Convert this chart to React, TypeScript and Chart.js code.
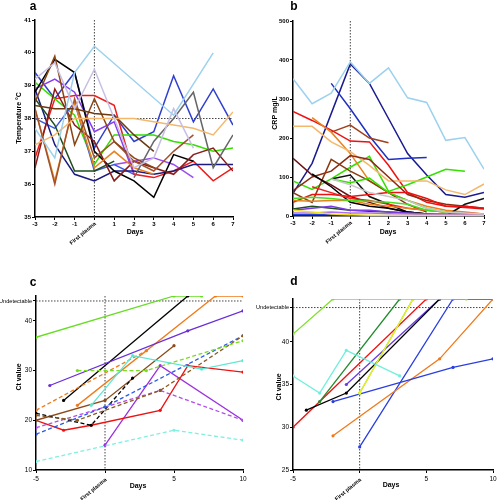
import React, { useEffect, useRef } from "react";
import { Chart, registerables } from "chart.js";

Chart.register(...registerables);

const _ = null;

// ---------- Panel a: temperature (°C) ----------
const daysAB = [-3, -2, -1, 0, 1, 2, 3, 4, 5, 6, 7];
const tempLightBlue = [37.7, 36.8, 39.4, 40.2, _, _, _, 38.1, _, 40.0, _];
const tempLavender = [39.2, 39.7, 38.3, 39.5, 38.0, 36.5, 36.8, 38.3, 37.1, _, _];
const tempBlack = [38.8, 39.8, 39.4, 37.0, 36.4, 36.1, 35.6, 36.9, 36.7, _, _];
const tempNavy = [38.9, 37.2, 36.3, 36.1, 36.4, 36.4, 36.3, 36.4, 36.6, 36.6, 36.6];
const tempRoyalBlue = [39.4, 38.6, 39.4, 37.1, 38.1, 37.3, 37.6, 39.3, 37.9, 38.9, 37.8];
const tempBlue = [38.0, 37.7, 38.5, 36.4, 36.6, 36.3, _, _, _, _, _];
const tempPurple = [38.9, 39.2, 38.8, 37.6, 37.9, 36.3, _, _, _, _, _];
const tempViolet = [_, _, _, _, 36.6, 36.7, 36.8, 36.6, 36.2, _, _];
const tempRed = [36.8, 38.6, 38.7, 38.7, 38.4, 36.3, 36.2, 36.4, 36.7, 36.1, 36.5];
const tempMaroon = [36.5, 38.9, 37.8, 37.3, 36.1, 36.7, 36.5, 36.3, 36.9, 37.1, 36.4];
const tempGreen = [39.1, 38.6, 38.1, 36.6, 37.5, 37.5, 37.5, 37.3, 37.2, 37.0, 37.1];
const tempDarkGreen = [38.6, 37.8, 36.4, 36.4, 36.7, _, _, _, _, _, _];
const tempTan = [37.2, 37.5, 38.0, 38.0, 38.0, 38.0, 37.9, 37.8, 37.7, 37.5, 38.2];
const tempOrange = [38.3, 36.1, 38.5, 36.5, 37.0, 36.5, 36.3, _, _, _, _];
const tempSaddle = [38.5, 39.9, 37.2, 38.6, 37.3, 36.8, 36.5, _, _, _, _];
const tempSienna = [38.3, 36.0, 38.6, 36.8, 37.3, 36.7, 36.4, 37.0, 37.5, _, _];
const tempDarkBrown = [38.4, 38.3, 38.3, 38.15, 38.1, 37.5, 37.0, _, _, _, _];
const tempGray = [_, _, _, _, _, 36.2, 37.3, 38.0, 38.8, 36.5, 37.5];

// ---------- Panel b: CRP (mg/L) ----------
const crpLightBlue = [352, 288, 315, 395, 340, 380, 303, 291, 194, 201, 120];
const crpNavy = [58, 135, _, 390, 340, 250, 160, 105, 55, 48, 60];
const crpBlue = [_, _, 340, 275, 205, 145, 148, 150, _, _, _];
const crpRed = [268, 245, 220, 192, 190, 130, 60, 35, 25, 22, 18];
const crpRed2 = [35, 55, 55, 50, 55, 60, 60, 45, 25, 25, 20];
const crpRed3 = [_, 75, 60, 45, 40, 30, 20, 15, 10, 8, 5];
const crpSienna = [_, _, 215, 233, 200, 188, _, _, _, _, _];
const crpTan = [230, 230, 190, 165, 130, 90, 90, 90, 67, 55, 82];
const crpOrange = [_, 252, 215, 160, 90, 60, 40, 25, 15, 10, 5];
const crpOrangeLow = [40, 38, 40, 40, 30, 25, 20, 15, 10, 8, _];
const crpSaddle = [65, 100, 115, 155, 145, 100, 55, 40, 30, 25, 20];
const crpMaroon = [148, 105, 80, 50, 35, 20, 10, 5, _, _, _];
const crpBrown = [60, 35, 145, 115, 90, 60, 30, 10, _, _, _];
const crpGreen = [90, 68, 95, 125, 153, 63, 80, 100, 120, 115, _];
const crpGreen2 = [_, _, 95, 85, 97, 60, 40, 20, 10, 5, 2];
const crpGreen3 = [45, 48, 45, 40, 38, 35, 30, 15, 10, 5, 2];
const crpBlack = [_, 108, 75, 35, 25, 20, 10, 5, _, _, _];
const crpBlack2 = [_, _, 95, 105, 50, 30, 10, 5, 0, 30, 45];
const crpDarkGreen = [18, 25, 20, 15, 12, 10, 8, 5, 3, 2, 2];
const crpGray = [_, _, 95, 80, 60, 50, 40, 20, 10, 8, 5];
const crpYellow = [15, 10, 5, 3, 2, 1, 1, 1, 1, 1, 1];
const crpPurple = [15, 20, 25, 15, 15, 10, 8, 5, 5, 5, 5];
const crpViolet = [8, 8, 10, 8, 8, 6, 5, 4, 4, 4, 4];
const crpBlueLow = [3, 3, 3, 2, _, _, _, _, _, _, _];

// ---------- Panel c: Ct value ----------
const daysCD = [-5, -4, -3, -2, -1, 0, 1, 2, 3, 4, 5, 6, 7, 8, 9, 10];
const ctLime = [36.7, _, _, _, _, _, _, _, _, _, 45, _, 45, _, _, _];
const ctBlack = [_, _, 24, _, _, _, _, _, _, _, _, 45, _, _, _, _];
const ctOrange = [_, _, _, 23, _, _, _, _, _, _, _, _, _, 45, _, 45];
const ctPurple = [_, 27, _, _, _, _, _, _, _, _, _, 38, _, _, _, 42];
const ctOrangeDash = [22, _, _, _, _, _, _, _, 34, _, _, _, _, _, _, _];
const ctGreenDash = [_, _, _, 30, _, _, _, _, 30, _, _, _, _, _, _, 36];
const ctCyan = [_, _, _, _, 23, _, _, 33, _, _, _, _, 30.3, _, _, 32];
const ctAquaDash = [11.7, _, _, _, _, _, _, _, _, _, 18, _, _, _, _, 16];
const ctRed = [20, _, 18, _, 19, _, _, _, _, 22, _, 31, _, _, _, 29.7];
const ctBrown = [20, _, _, _, _, 24, _, _, _, _, 35, _, _, _, _, _];
const ctBlackDash = [21.4, _, _, _, 19, _, _, 28.5, _, _, _, _, _, _, _, _];
const ctBlueDash = [17.2, _, _, _, _, 22.7, _, _, _, _, _, _, _, _, _, 37];
const ctBrownDash = [21, _, _, 20, _, _, _, _, _, 26, _, _, _, _, _, 37];
const ctVioletDash = [18.5, _, _, _, _, _, _, _, _, 26, _, _, _, _, _, 20];
const ctViolet = [_, _, _, _, _, 15, _, _, _, 31, _, _, _, _, _, 20];

// ---------- Panel d: Ct value ----------
const dLightGreen = [40.9, _, _, 45, _, _, _, _, _, _, _, _, _, 45, _, _];
const dCyan = [36, _, 34, _, 39, _, _, _, 36, _, _, _, _, _, _, _];
const dDarkGreen = [_, _, 33, _, _, _, _, _, 45, _, _, _, _, _, _, _];
const dGreen = [_, _, _, _, _, 34, _, _, _, 45, _, _, _, _, _, _];
const dYellow = [_, _, _, _, _, 34, _, _, _, 45, _, _, _, _, _, _];
const dRed = [30, _, _, _, _, _, _, _, _, _, 45, _, _, _, _, _];
const dBlack = [_, 32, _, _, 34, _, _, _, _, _, _, 45, _, _, _, _];
const dPurple = [_, _, _, _, 35, _, _, _, _, _, _, 45, _, _, _, _];
const dBlue = [_, _, _, _, _, 27.7, _, _, _, _, _, _, 45, _, _, 45];
const dBlue2 = [_, _, _, 33, _, _, _, _, _, _, _, _, 37, _, _, 38];
const dOrange = [_, _, _, 29, _, _, _, _, _, _, _, 38, _, _, _, 45];

// tick / label texts
const ticksC = [10, 20, 30, 40, 44];
const ticksD = [25, 30, 35, 40, 44];
const UNDETECTABLE = 44;

type Series = { vals: (number | null)[]; color: string; dash?: boolean };

const seriesA: Series[] = [
  { vals: tempLightBlue, color: "#9dd1ee" },
  { vals: tempLavender, color: "#c8bfe4" },
  { vals: tempTan, color: "#f4b86a" },
  { vals: tempGray, color: "#666666" },
  { vals: tempDarkBrown, color: "#6b3a10" },
  { vals: tempSaddle, color: "#8b4513" },
  { vals: tempSienna, color: "#a0522d" },
  { vals: tempOrange, color: "#e8821e" },
  { vals: tempMaroon, color: "#8b1a1a" },
  { vals: tempDarkGreen, color: "#1e4d1e" },
  { vals: tempBlack, color: "#000000" },
  { vals: tempNavy, color: "#1a1a80" },
  { vals: tempBlue, color: "#3a5ce0" },
  { vals: tempPurple, color: "#8a3cf0" },
  { vals: tempViolet, color: "#9b4cf0" },
  { vals: tempGreen, color: "#33e000" },
  { vals: tempRed, color: "#ee1c1c" },
  { vals: tempRoyalBlue, color: "#2f3fd0" },
];

const seriesB: Series[] = [
  { vals: crpLightBlue, color: "#9dd1ee" },
  { vals: crpGray, color: "#c8c8c8" },
  { vals: crpYellow, color: "#f0e020" },
  { vals: crpViolet, color: "#b070f0" },
  { vals: crpPurple, color: "#7a3ce0" },
  { vals: crpBlueLow, color: "#2040e0" },
  { vals: crpDarkGreen, color: "#1e4d1e" },
  { vals: crpGreen3, color: "#44e020" },
  { vals: crpGreen2, color: "#33e000" },
  { vals: crpOrangeLow, color: "#e8821e" },
  { vals: crpRed3, color: "#ee2222" },
  { vals: crpRed2, color: "#ee1111" },
  { vals: crpBlack, color: "#000000" },
  { vals: crpBlack2, color: "#111111" },
  { vals: crpMaroon, color: "#6b1010" },
  { vals: crpBrown, color: "#8b3a10" },
  { vals: crpSaddle, color: "#8b2a10" },
  { vals: crpTan, color: "#f4b86a" },
  { vals: crpOrange, color: "#e8821e" },
  { vals: crpSienna, color: "#a0401d" },
  { vals: crpGreen, color: "#33e000" },
  { vals: crpRed, color: "#ee1111" },
  { vals: crpBlue, color: "#2030c0" },
  { vals: crpNavy, color: "#1a1a90" },
];

const seriesC: Series[] = [
  { vals: ctAquaDash, color: "#7ff0e0", dash: true },
  { vals: ctCyan, color: "#5fe8d0" },
  { vals: ctGreenDash, color: "#77dd22", dash: true },
  { vals: ctOrangeDash, color: "#f07a1a", dash: true },
  { vals: ctBrownDash, color: "#8b5a20", dash: true },
  { vals: ctBlueDash, color: "#2a5be8", dash: true },
  { vals: ctVioletDash, color: "#b24de8", dash: true },
  { vals: ctBlackDash, color: "#000000", dash: true },
  { vals: ctBrown, color: "#8b4a1a" },
  { vals: ctRed, color: "#ee1111" },
  { vals: ctViolet, color: "#9b30e0" },
  { vals: ctPurple, color: "#6a2ed8" },
  { vals: ctOrange, color: "#f07a1a" },
  { vals: ctBlack, color: "#000000" },
  { vals: ctLime, color: "#66dd22" },
];

const seriesD: Series[] = [
  { vals: dLightGreen, color: "#80e030" },
  { vals: dCyan, color: "#70f0dc" },
  { vals: dYellow, color: "#f0f020" },
  { vals: dGreen, color: "#55d040" },
  { vals: dDarkGreen, color: "#1f8a2a" },
  { vals: dBlue2, color: "#2a3ee0" },
  { vals: dOrange, color: "#f07a1a" },
  { vals: dBlue, color: "#2a3ee0" },
  { vals: dBlack, color: "#000000" },
  { vals: dPurple, color: "#6a3ae0" },
  { vals: dRed, color: "#ee1111" },
];

const FONT = "'Liberation Sans', Arial, Helvetica, sans-serif";
const CW = 497;
const CH = 500;
const XH = 20;

type Panel = {
  letter: string;
  plot: { l: number; t: number; r: number; b: number };
  days: number[];
  series: Series[];
  xMin: number; xMax: number; xStep: number;
  yMin: number; yMax: number; yStep?: number; yTicks?: number[];
  hLine?: number;
  yTitle: string;
  letterPos: [number, number];
  yTitlePos: [number, number];
  daysPos: [number, number];
  markers: boolean;
  boldTicks: boolean;
  tickSize: number;
  lineWidth: number;
  xLabelPad: number;
  fpOffset: number;
};

const panels: Panel[] = [
  {
    letter: "a", plot: { l: 35, t: 20, r: 233, b: 217 }, days: daysAB, series: seriesA,
    xMin: -3, xMax: 7, xStep: 1, yMin: 35, yMax: 41, yStep: 1, hLine: 38,
    yTitle: "Temperature °C", letterPos: [33, 7], yTitlePos: [19, 118], daysPos: [135, 232],
    markers: false, boldTicks: true, tickSize: 6, lineWidth: 1.5, xLabelPad: 1, fpOffset: 6,
  },
  {
    letter: "b", plot: { l: 293, t: 21, r: 484, b: 216 }, days: daysAB, series: seriesB,
    xMin: -3, xMax: 7, xStep: 1, yMin: 0, yMax: 500, yStep: 100,
    yTitle: "CRP mg/L", letterPos: [294, 7], yTitlePos: [275, 113], daysPos: [388, 232],
    markers: false, boldTicks: true, tickSize: 6, lineWidth: 1.5, xLabelPad: 1, fpOffset: 6,
  },
  {
    letter: "c", plot: { l: 36, t: 296, r: 243, b: 470 }, days: daysCD, series: seriesC,
    xMin: -5, xMax: 10, xStep: 5, yMin: 10, yMax: 45, yTicks: ticksC, hLine: UNDETECTABLE,
    yTitle: "Ct value", letterPos: [33, 283], yTitlePos: [19, 377], daysPos: [138, 486],
    markers: true, boldTicks: false, tickSize: 6.5, lineWidth: 1.3, xLabelPad: 2, fpOffset: 9,
  },
  {
    letter: "d", plot: { l: 293, t: 299, r: 493, b: 470 }, days: daysCD, series: seriesD,
    xMin: -5, xMax: 10, xStep: 5, yMin: 25, yMax: 45, yTicks: ticksD, hLine: UNDETECTABLE,
    yTitle: "Ct value", letterPos: [294, 282], yTitlePos: [279, 387], daysPos: [391, 485],
    markers: true, boldTicks: false, tickSize: 6.5, lineWidth: 1.3, xLabelPad: 2, fpOffset: 9,
  },
];

function buildConfig(p: Panel): any {
  const datasets = p.series.map((s) => ({
    data: p.days
      .map((d, i) => (s.vals[i] == null ? null : { x: d, y: s.vals[i] as number }))
      .filter((v) => v != null),
    borderColor: s.color,
    backgroundColor: s.color,
    borderWidth: p.lineWidth,
    borderDash: s.dash ? [4, 2.5] : [],
    pointRadius: p.markers ? 1.6 : 0,
    pointBorderWidth: 0,
    pointBackgroundColor: s.color,
    tension: 0,
    fill: false,
  }));

  const tickFont = { family: FONT, size: p.tickSize, weight: p.boldTicks ? "bold" : "normal" };
  const undetFont = { family: FONT, size: 5.6, weight: "normal" };
  const yAxisWidth = p.plot.l;

  const overlay = {
    id: "overlay-" + p.letter,
    beforeDatasetsDraw(chart: any) {
      const { ctx, chartArea, scales } = chart;
      ctx.save();
      ctx.strokeStyle = "#444";
      ctx.lineWidth = 1;
      ctx.setLineDash([1.5, 1.5]);
      const x0 = scales.x.getPixelForValue(0);
      ctx.beginPath();
      ctx.moveTo(x0, chartArea.top);
      ctx.lineTo(x0, chartArea.bottom);
      ctx.stroke();
      if (p.hLine != null) {
        const y = scales.y.getPixelForValue(p.hLine);
        ctx.beginPath();
        ctx.moveTo(chartArea.left, y);
        ctx.lineTo(chartArea.right, y);
        ctx.stroke();
      }
      ctx.restore();
    },
    afterDraw(chart: any) {
      const { ctx, chartArea, scales } = chart;
      ctx.save();
      ctx.fillStyle = "#000";
      ctx.textAlign = "center";
      ctx.textBaseline = "middle";
      ctx.font = `bold 12px ${FONT}`;
      ctx.fillText(p.letter, p.letterPos[0], p.letterPos[1]);

      ctx.font = `bold 7px ${FONT}`;
      ctx.fillText("Days", p.daysPos[0], p.daysPos[1]);

      ctx.save();
      ctx.translate(p.yTitlePos[0], p.yTitlePos[1]);
      ctx.rotate(-Math.PI / 2);
      ctx.fillText(p.yTitle, 0, 0);
      ctx.restore();

      const x0 = scales.x.getPixelForValue(0);
      ctx.save();
      ctx.translate(x0 + 1, chartArea.bottom + p.fpOffset);
      ctx.rotate((-40 * Math.PI) / 180);
      ctx.textAlign = "right";
      ctx.font = `bold 5.5px ${FONT}`;
      ctx.fillText("First plasma", 0, 0);
      ctx.restore();
      ctx.restore();
    },
  };

  return {
    type: "line",
    data: { datasets },
    options: {
      responsive: false,
      animation: false,
      devicePixelRatio: 1,
      events: [],
      layout: {
        padding: {
          left: 0,
          right: CW - p.plot.r,
          top: p.plot.t,
          bottom: CH - p.plot.b - XH,
        },
      },
      plugins: { legend: { display: false }, tooltip: { enabled: false }, title: { display: false } },
      scales: {
        x: {
          type: "linear",
          min: p.xMin,
          max: p.xMax,
          ticks: {
            stepSize: p.xStep,
            autoSkip: false,
            maxRotation: 0,
            minRotation: 0,
            padding: p.xLabelPad,
            color: "#000",
            font: tickFont,
            callback: (v: number) => (v === 0 ? "" : String(v)),
          },
          grid: { drawOnChartArea: false, drawTicks: true, tickLength: 3, color: "#000" },
          border: { display: true, color: "#000", width: 1.5 },
          afterFit: (s: any) => {
            s.height = XH;
            s.paddingLeft = 0;
            s.paddingRight = 0;
          },
        },
        y: {
          type: "linear",
          min: p.yMin,
          max: p.yMax,
          ticks: {
            stepSize: p.yStep,
            autoSkip: false,
            padding: 1,
            color: "#000",
            font: (c: any) =>
              p.yTicks && c.tick && c.tick.value === UNDETECTABLE ? undetFont : tickFont,
            callback: (v: number) => (v === UNDETECTABLE && p.yTicks ? "Undetectable" : String(v)),
          },
          afterBuildTicks: p.yTicks
            ? (s: any) => {
                s.ticks = (p.yTicks as number[]).map((v) => ({ value: v }));
              }
            : undefined,
          grid: { drawOnChartArea: false, drawTicks: true, tickLength: 3, color: "#000" },
          border: { display: true, color: "#000", width: 1.5 },
          afterFit: (s: any) => {
            s.width = yAxisWidth;
            s.paddingTop = 0;
            s.paddingBottom = 0;
          },
        },
      },
    },
    plugins: [overlay],
  };
}

function PanelCanvas({ panel }: { panel: Panel }) {
  const ref = useRef<HTMLCanvasElement | null>(null);
  useEffect(() => {
    if (!ref.current) return;
    const chart = new Chart(ref.current, buildConfig(panel));
    return () => chart.destroy();
  }, [panel]);
  return (
    <canvas
      ref={ref}
      width={CW}
      height={CH}
      style={{ position: "absolute", left: 0, top: 0, width: CW, height: CH }}
    />
  );
}

export default function App() {
  return (
    <div
      style={{
        position: "absolute",
        left: 0,
        top: 0,
        width: CW,
        height: CH,
        background: "#fff",
        overflow: "hidden",
      }}
    >
      {panels.map((p) => (
        <PanelCanvas key={p.letter} panel={p} />
      ))}
    </div>
  );
}
